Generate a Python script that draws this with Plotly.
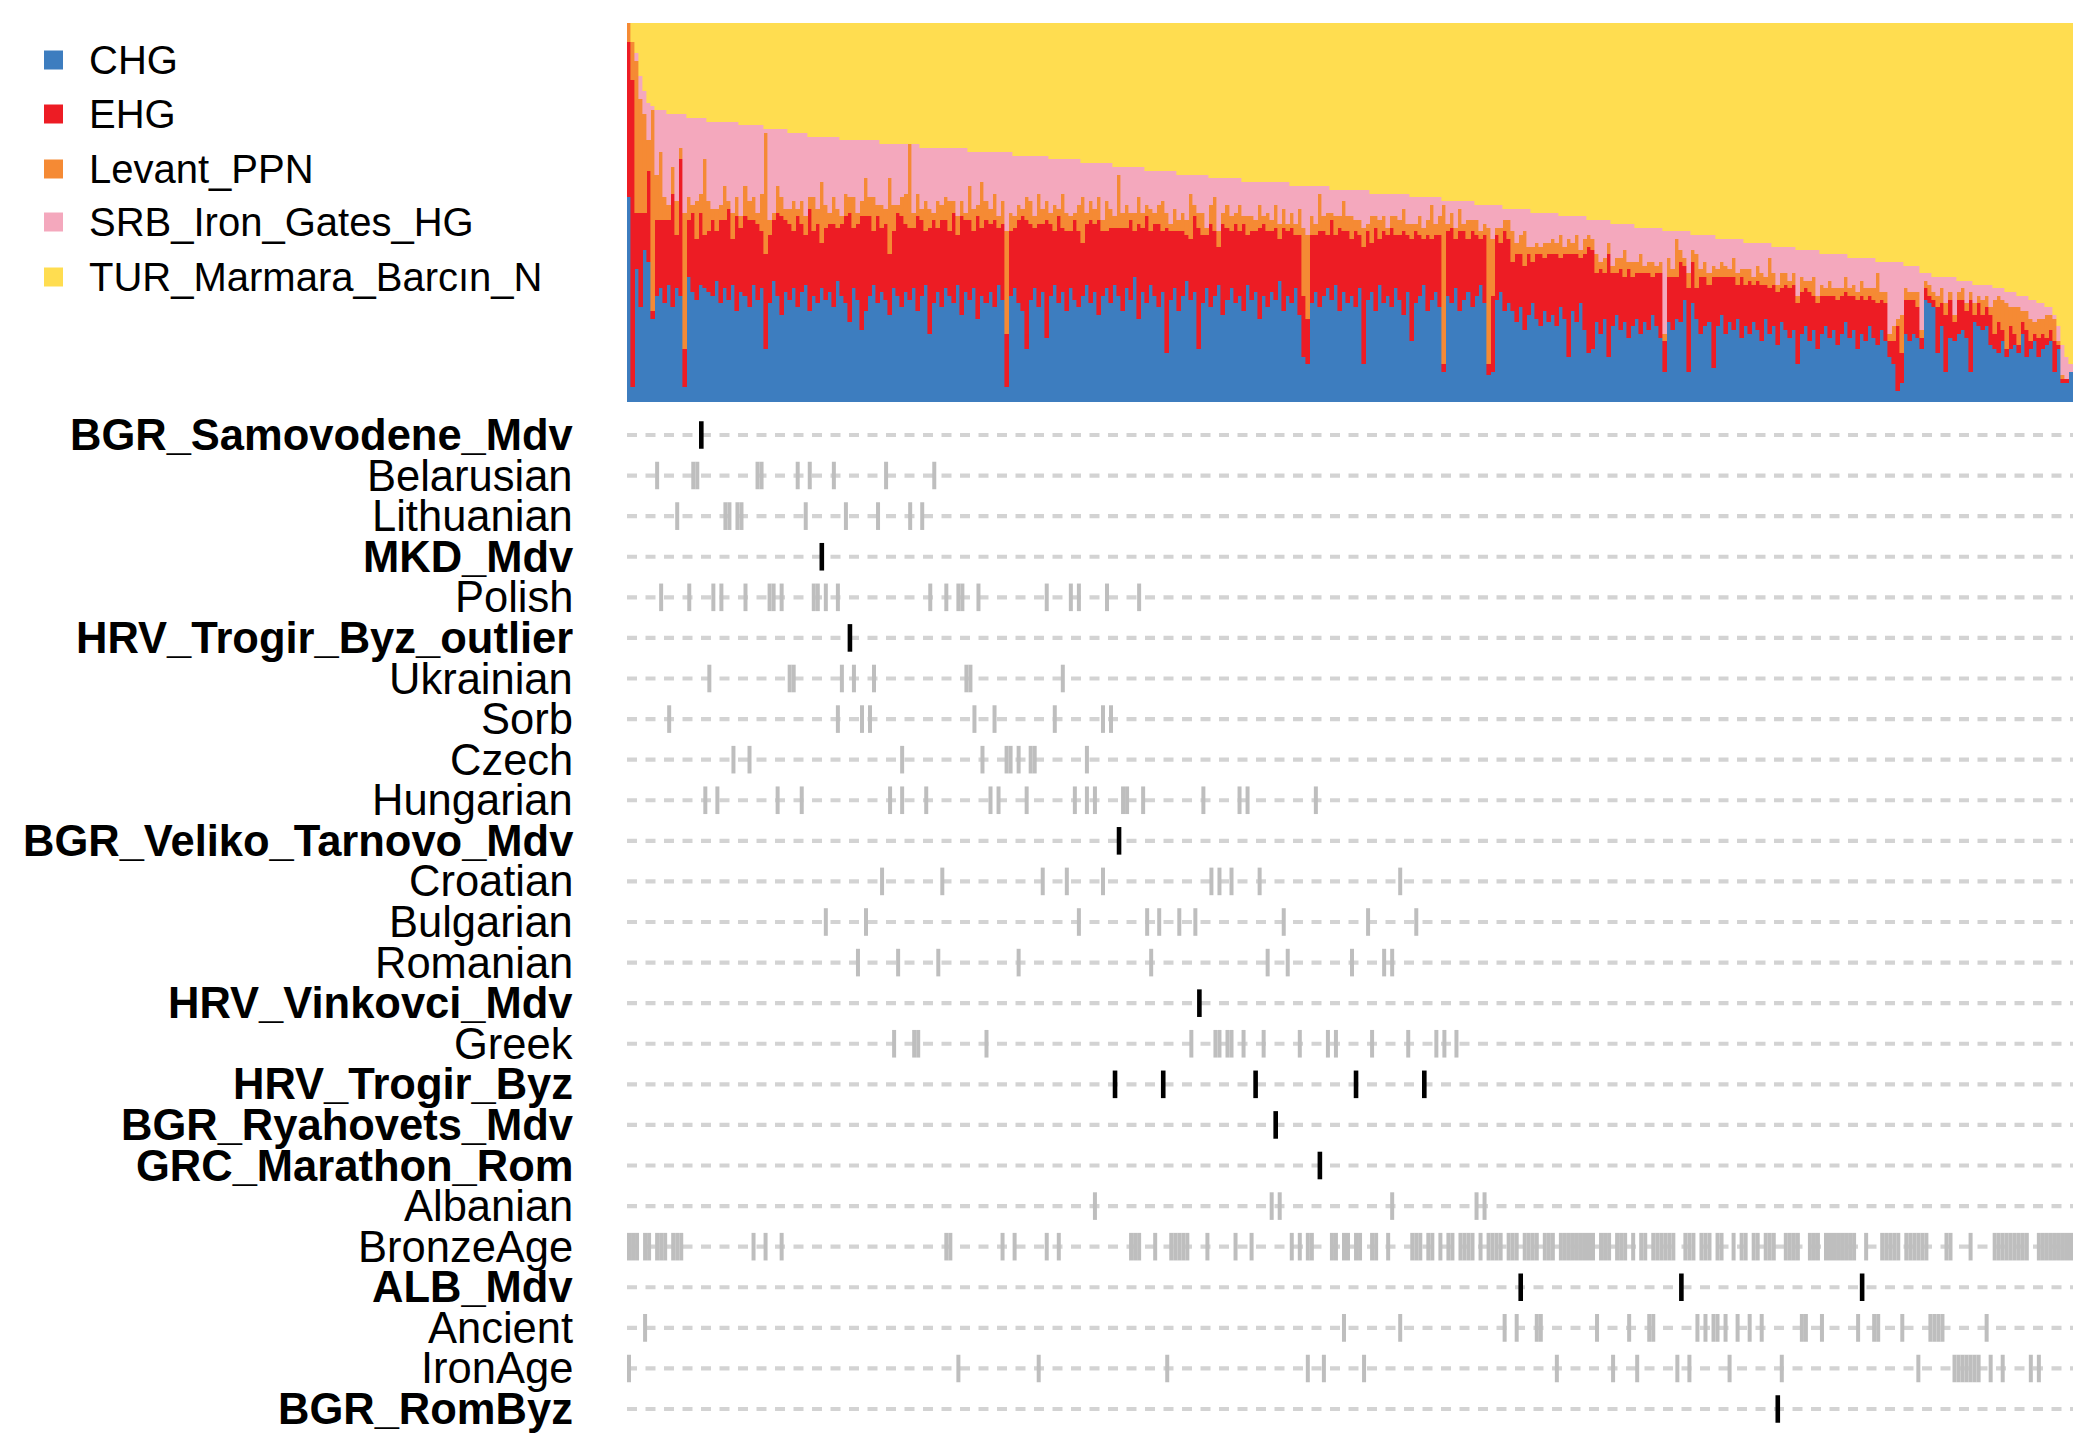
import plotly.graph_objects as go

# ---------------- data ----------------
N_SAMPLES = 360
samples = list(range(N_SAMPLES))

components = ["CHG", "EHG", "Levant_PPN", "SRB_Iron_Gates_HG", "TUR_Marmara_Barcın_N"]
comp_colors = ["#3D7DBF", "#ED1C24", "#F58A34", "#F4A8BD", "#FFDD50"]

CHG = [
    54, 4, 35, 25, 40, 37, 22, 28, 30, 26,
    31, 25, 30, 28, 4, 33, 29, 27, 31, 30,
    29, 28, 32, 26, 30, 27, 31, 24, 29, 28,
    25, 31, 27, 30, 14, 26, 32, 28, 23, 29,
    27, 30, 25, 29, 31, 24, 28, 26, 30, 27,
    29, 25, 32, 28, 26, 21, 30, 27, 19, 24,
    28, 31, 26, 29, 27, 23, 30, 28, 25, 29,
    27, 30, 24, 28, 31, 18, 26, 29, 25, 30,
    28, 26, 31, 23, 29, 27, 30, 22, 28, 26,
    29, 25, 31, 27, 4, 28, 30, 26, 24, 14,
    27, 30, 25, 29, 17, 28, 31, 26, 29, 24,
    30, 27, 25, 28, 31, 26, 29, 23, 28, 30,
    26, 31, 28, 24, 30, 27, 33, 22, 29, 26,
    31, 28, 25, 29, 13, 27, 30, 24, 28, 32,
    27, 29, 14, 26, 30, 25, 28, 31, 23, 27,
    30, 26, 28, 24, 31, 27, 29, 22, 28, 25,
    29, 27, 32, 24, 28, 26, 30, 23, 12, 10,
    26, 29, 25, 28, 30, 27, 31, 24, 29, 26,
    28, 25, 30, 10, 27, 29, 24, 31, 26, 28,
    25, 30, 27, 23, 29, 16, 26, 28, 31, 24,
    27, 29, 25, 8, 28, 26, 30, 24, 27, 29,
    25, 28, 31, 26, 7, 8, 27, 29, 24, 26,
    24, 21, 25, 19, 23, 26, 22, 20, 24, 21,
    23, 20, 25, 22, 12, 24, 21, 26, 19, 13,
    14, 21, 18, 22, 12, 20, 23, 19, 21, 17,
    20, 22, 18, 21, 19, 23, 20, 17, 8, 21,
    19, 22, 21, 27, 8, 26, 22, 18, 20, 21,
    9, 20, 23, 18, 21, 19, 22, 17, 20, 18,
    21, 19, 16, 22, 18, 20, 15, 21, 19, 17,
    19, 10, 18, 20, 16, 19, 14, 18, 20, 17,
    19, 15, 18, 21, 17, 19, 14, 18, 16, 20,
    17, 15, 19, 16, 12, 10, 3, 5, 18, 16,
    18, 17, 14, 27, 26, 25, 13, 20, 8, 17,
    16, 18, 19, 17, 8, 21, 20, 19, 20, 15,
    14, 13, 16, 12, 14, 15, 13, 18, 12, 14,
    16, 12, 14, 15, 16, 8, 14, 5, 5, 8,
]

EHG = [
    41, 81, 15, 25, 10, 24, 2, 20, 18, 22,
    17, 30, 14, 36, 10, 15, 21, 16, 19, 14,
    16, 20, 13, 22, 18, 24, 12, 25, 17, 21,
    23, 17, 20, 15, 25, 18, 16, 22, 26, 19,
    20, 15, 24, 18, 13, 27, 17, 21, 12, 19,
    18, 22, 14, 19, 23, 29, 16, 20, 30, 25,
    21, 14, 23, 17, 20, 16, 15, 22, 24, 18,
    19, 16, 25, 20, 14, 28, 22, 17, 23, 18,
    17, 24, 13, 26, 19, 21, 15, 27, 18, 22,
    18, 23, 15, 20, 14, 17, 16, 22, 25, 34,
    20, 16, 22, 18, 31, 19, 14, 23, 17, 21,
    15, 21, 20, 14, 16, 22, 18, 25, 17, 15,
    20, 15, 18, 22, 16, 21, 12, 25, 17, 23,
    14, 19, 22, 16, 33, 18, 15, 21, 17, 12,
    16, 20, 32, 18, 14, 22, 17, 10, 24, 19,
    15, 21, 17, 23, 13, 18, 16, 24, 19, 20,
    16, 19, 11, 22, 17, 20, 14, 21, 16, 12,
    18, 15, 20, 17, 14, 21, 13, 22, 16, 19,
    15, 20, 14, 31, 18, 13, 22, 12, 19, 16,
    21, 14, 17, 22, 15, 27, 19, 16, 12, 20,
    16, 15, 19, 2, 17, 20, 13, 21, 18, 14,
    20, 16, 12, 18, 3, 20, 17, 13, 21, 17,
    13, 18, 14, 17, 16, 11, 17, 19, 14, 18,
    16, 19, 13, 17, 27, 15, 18, 12, 20, 28,
    26, 13, 17, 12, 27, 14, 11, 16, 12, 18,
    13, 12, 16, 13, 15, 10, 14, 17, 8, 12,
    14, 11, 16, 9, 22, 11, 8, 15, 13, 10,
    24, 13, 10, 15, 12, 14, 9, 16, 11, 14,
    10, 13, 15, 9, 12, 11, 14, 9, 12, 13,
    12, 16, 11, 10, 13, 9, 12, 10, 8, 11,
    9, 12, 10, 8, 11, 9, 13, 10, 11, 8,
    10, 11, 8, 10, 4, 6, 17, 8, 9, 11,
    9, 8, 3, 3, 2, 2, 12, 6, 15, 10,
    5, 9, 8, 7, 19, 2, 6, 4, 5, 8,
    4, 8, 3, 2, 6, 3, 2, 3, 7, 2,
    2, 5, 4, 2, 3, 8, 1, 1, 1, 0,
]

LEVANT_PPN = [
    5, 10, 40, 30, 26, 8, 53, 12, 18, 6,
    4, 7, 9, 3, 36, 6, 2, 10, 5, 20,
    8, 3, 6, 4, 9, 2, 7, 5, 3, 8,
    5, 6, 3, 10, 32, 4, 2, 7, 5, 3,
    4, 8, 2, 6, 5, 3, 9, 4, 16, 6,
    3, 7, 5, 2, 6, 4, 8, 3, 4, 10,
    5, 9, 3, 6, 4, 20, 7, 2, 5, 8,
    22, 4, 6, 3, 8, 5, 2, 7, 4, 6,
    8, 3, 5, 4, 2, 9, 6, 3, 12, 5,
    4, 7, 3, 6, 27, 5, 3, 4, 2, 6,
    6, 3, 8, 4, 5, 3, 7, 2, 9, 5,
    4, 2, 7, 12, 3, 5, 4, 6, 3, 8,
    5, 3, 14, 4, 6, 2, 5, 7, 4, 3,
    6, 3, 5, 8, 4, 2, 6, 3, 5, 4,
    12, 3, 4, 6, 2, 5, 9, 4, 3, 6,
    4, 3, 7, 2, 5, 4, 3, 6, 2, 5,
    3, 6, 4, 5, 2, 4, 3, 7, 18, 22,
    5, 3, 10, 4, 6, 2, 5, 3, 8, 4,
    6, 3, 4, 5, 2, 7, 3, 5, 4, 2,
    3, 5, 4, 6, 3, 4, 2, 5, 3, 4,
    9, 3, 5, 42, 2, 4, 3, 6, 2, 5,
    3, 4, 2, 3, 36, 15, 2, 4, 3, 5,
    8, 3, 5, 9, 2, 4, 3, 2, 4, 3,
    4, 3, 6, 2, 4, 3, 5, 2, 4, 3,
    3, 5, 2, 4, 3, 2, 4, 3, 7, 2,
    4, 3, 5, 2, 3, 4, 2, 3, 2, 5,
    2, 10, 3, 2, 4, 3, 9, 2, 4, 3,
    3, 2, 4, 3, 2, 5, 3, 2, 4, 3,
    2, 4, 3, 2, 8, 3, 2, 4, 3, 2,
    3, 2, 4, 2, 3, 5, 2, 3, 2, 4,
    2, 3, 2, 4, 2, 3, 2, 4, 3, 2,
    3, 8, 2, 3, 2, 4, 2, 10, 3, 2,
    2, 4, 2, 2, 3, 2, 3, 4, 3, 2,
    2, 2, 3, 2, 2, 3, 2, 4, 3, 2,
    9, 7, 8, 12, 5, 7, 10, 3, 5, 6,
    3, 5, 4, 6, 4, 6, 1, 1, 0, 0,
]

SRB_IRON_GATES_HG = [
    0, 0, 2, 6, 6, 10, 1, 17, 11, 23,
    24, 14, 23, 9, 26, 21, 23, 22, 20, 11,
    21, 23, 23, 22, 17, 21, 24, 20, 24, 16,
    20, 19, 23, 18, 1, 24, 22, 15, 18, 21,
    20, 18, 20, 18, 22, 16, 16, 19, 12, 18,
    20, 16, 19, 20, 14, 15, 15, 19, 16, 10,
    15, 15, 17, 16, 17, 9, 16, 16, 14, 13,
    0, 18, 13, 16, 14, 16, 17, 14, 15, 13,
    14, 14, 18, 14, 17, 9, 15, 14, 8, 13,
    15, 11, 17, 13, 21, 16, 16, 13, 14, 11,
    12, 16, 10, 14, 12, 14, 12, 13, 9, 14,
    15, 14, 12, 9, 13, 10, 12, 9, 15, 10,
    12, 13, 2, 12, 10, 12, 12, 8, 12, 9,
    10, 11, 9, 8, 11, 14, 10, 12, 10, 12,
    5, 8, 10, 10, 14, 7, 5, 14, 9, 7,
    10, 9, 7, 9, 9, 9, 10, 6, 9, 8,
    10, 6, 11, 7, 11, 7, 10, 6, 11, 13,
    8, 10, 2, 8, 7, 6, 7, 7, 3, 7,
    7, 8, 8, 10, 9, 6, 6, 7, 6, 9,
    6, 6, 7, 4, 8, 7, 7, 5, 8, 6,
    2, 7, 5, 1, 6, 3, 7, 2, 6, 5,
    5, 4, 7, 5, 6, 9, 6, 6, 3, 3,
    6, 9, 7, 6, 10, 9, 8, 9, 8, 8,
    7, 8, 5, 8, 6, 7, 5, 9, 6, 4,
    5, 9, 11, 10, 6, 11, 9, 9, 7, 10,
    10, 9, 7, 10, 9, 9, 10, 9, 27, 7,
    10, 2, 5, 7, 11, 4, 5, 9, 7, 10,
    8, 8, 6, 7, 8, 5, 9, 8, 7, 7,
    9, 6, 8, 9, 4, 7, 10, 7, 7, 9,
    7, 12, 7, 8, 8, 7, 12, 8, 9, 7,
    9, 9, 9, 6, 8, 7, 9, 6, 8, 8,
    8, 3, 8, 8, 19, 17, 15, 14, 6, 7,
    7, 7, 15, 2, 3, 4, 5, 3, 7, 4,
    10, 3, 2, 6, 3, 5, 3, 4, 3, 6,
    3, 2, 3, 3, 4, 4, 3, 4, 4, 5,
    6, 4, 4, 2, 2, 1, 4, 8, 6, 2,
]

TUR_MARMARA_BARCIN_N = [
    0, 5, 8, 14, 18, 21, 22, 23, 23, 23,
    24, 24, 24, 24, 24, 25, 25, 25, 25, 25,
    26, 26, 26, 26, 26, 26, 26, 26, 27, 27,
    27, 27, 27, 27, 28, 28, 28, 28, 28, 28,
    29, 29, 29, 29, 29, 30, 30, 30, 30, 30,
    30, 30, 30, 31, 31, 31, 31, 31, 31, 31,
    31, 31, 31, 32, 32, 32, 32, 32, 32, 32,
    32, 32, 32, 33, 33, 33, 33, 33, 33, 33,
    33, 33, 33, 33, 33, 34, 34, 34, 34, 34,
    34, 34, 34, 34, 34, 34, 35, 35, 35, 35,
    35, 35, 35, 35, 35, 36, 36, 36, 36, 36,
    36, 36, 36, 37, 37, 37, 37, 37, 37, 37,
    37, 38, 38, 38, 38, 38, 38, 38, 38, 39,
    39, 39, 39, 39, 39, 39, 39, 40, 40, 40,
    40, 40, 40, 40, 40, 41, 41, 41, 41, 41,
    41, 41, 41, 42, 42, 42, 42, 42, 42, 42,
    42, 42, 42, 42, 42, 43, 43, 43, 43, 43,
    43, 43, 43, 43, 43, 44, 44, 44, 44, 44,
    44, 44, 44, 44, 44, 45, 45, 45, 45, 45,
    45, 45, 45, 45, 45, 46, 46, 46, 46, 46,
    46, 46, 46, 47, 47, 47, 47, 47, 47, 47,
    47, 48, 48, 48, 48, 48, 48, 48, 49, 49,
    49, 49, 49, 49, 49, 50, 50, 50, 50, 50,
    50, 50, 51, 51, 51, 51, 51, 51, 51, 52,
    52, 52, 52, 52, 52, 53, 53, 53, 53, 53,
    53, 54, 54, 54, 54, 54, 54, 54, 55, 55,
    55, 55, 55, 55, 55, 56, 56, 56, 56, 56,
    56, 57, 57, 57, 57, 57, 57, 57, 58, 58,
    58, 58, 58, 58, 58, 59, 59, 59, 59, 59,
    59, 60, 60, 60, 60, 60, 60, 61, 61, 61,
    61, 61, 61, 61, 62, 62, 62, 62, 62, 62,
    62, 63, 63, 63, 63, 63, 63, 63, 64, 64,
    64, 64, 66, 66, 66, 67, 67, 67, 67, 67,
    67, 68, 68, 68, 68, 69, 69, 69, 69, 69,
    70, 70, 70, 71, 71, 71, 72, 72, 72, 73,
    73, 74, 74, 75, 75, 77, 80, 85, 88, 90,
]

# population rows (top to bottom); bold = highlighted medieval / ancient groups
row_labels = [
    "BGR_Samovodene_Mdv", "Belarusian", "Lithuanian", "MKD_Mdv", "Polish",
    "HRV_Trogir_Byz_outlier", "Ukrainian", "Sorb", "Czech", "Hungarian",
    "BGR_Veliko_Tarnovo_Mdv", "Croatian", "Bulgarian", "Romanian", "HRV_Vinkovci_Mdv",
    "Greek", "HRV_Trogir_Byz", "BGR_Ryahovets_Mdv", "GRC_Marathon_Rom", "Albanian",
    "BronzeAge", "ALB_Mdv", "Ancient", "IronAge", "BGR_RomByz",
]
row_bold = [
    True, False, False, True, False,
    True, False, False, False, False,
    True, False, False, False, True,
    False, True, True, True, False,
    False, True, False, False, True,
]

# sample indices (position in the sorted bar chart) belonging to each row
row_members = [
    [18],
    [7, 16, 17, 32, 33, 42, 45, 51, 64, 76],
    [12, 24, 25, 27, 28, 44, 54, 62, 70, 73],
    [48],
    [8, 15, 21, 23, 29, 35, 36, 38, 46, 47, 49, 52, 75, 79, 82, 83, 87, 104, 110, 112, 119, 127],
    [55],
    [20, 40, 41, 53, 56, 61, 84, 85, 108],
    [10, 52, 58, 60, 86, 91, 106, 118, 120],
    [26, 30, 68, 88, 94, 95, 97, 100, 101, 114],
    [19, 22, 37, 43, 65, 68, 74, 90, 92, 99, 111, 114, 116, 123, 124, 128, 143, 152, 154, 171],
    [122],
    [63, 78, 103, 109, 118, 145, 147, 150, 157, 192],
    [49, 59, 112, 129, 132, 137, 141, 163, 184, 196],
    [57, 67, 77, 97, 130, 159, 164, 180, 188, 190],
    [142],
    [66, 71, 72, 89, 140, 146, 147, 149, 150, 153, 158, 167, 174, 176, 185, 194, 201, 203, 206],
    [121, 133, 156, 181, 198],
    [161],
    [172],
    [116, 160, 162, 190, 211, 213],
    [0, 1, 2, 4, 5, 7, 8, 9, 11, 12, 13, 31, 34, 38, 79, 80, 93, 96, 104, 107,
     125, 126, 127, 131, 135, 136, 137, 138, 139, 144, 151, 155, 165, 167, 169, 170,
     175, 176, 178, 179, 181, 182, 185, 186, 189,
     195, 196, 197, 199, 200, 202, 204, 205, 207, 208, 209, 210, 212, 214, 215, 216, 217,
     219, 220, 221, 223, 224, 225, 226, 228, 229, 230, 232, 233, 234, 235, 236, 237, 238, 239,
     240, 242, 243, 244, 246, 247, 248, 250, 252, 253, 255, 256, 257, 258, 259, 260,
     263, 264, 265, 267, 268, 269, 271, 272, 275, 277, 278, 280, 281, 283, 284, 285, 288, 289, 290,
     291, 294, 295, 296, 298, 299, 300, 301, 302, 303, 304, 305, 308, 312, 313, 314,
     315, 316, 318, 319, 320, 321, 322, 323, 328, 329, 334, 340, 341, 342, 343, 344, 345, 346, 347,
     348, 351, 352, 353, 354, 355, 356, 357, 358, 359],
    [222, 262, 307],
    [4, 178, 192, 218, 221, 226, 227, 241, 249, 254, 255, 266, 268, 270, 271, 273,
     276, 279, 282, 292, 293, 297, 306, 310, 311, 317, 324, 325, 326, 327, 338],
    [0, 82, 102, 134, 169, 173, 183, 231, 245, 251, 261, 264, 274, 287, 321, 330,
     331, 332, 333, 334, 335, 336, 339, 342, 349, 351],
    [286],
]

series = [CHG, EHG, LEVANT_PPN, SRB_IRON_GATES_HG, TUR_MARMARA_BARCIN_N]
for s in series:
    assert len(s) == N_SAMPLES, len(s)

# ---------------- layout geometry ----------------
# The page body has an 8px margin, so the figure is sized to fit the window
# and target pixel positions are shifted by that margin.
OFF = 8
W, H = 2100 - 2 * OFF, 1447 - 2 * OFF
PX_L, PX_R = 627, 2073           # plot left / right (window px)
BAR_T, BAR_B = 23, 402           # bar panel top / bottom
RUG_T, RUG_B = 414.7, 1429.3     # rug panel top / bottom
LABEL_X = 575
FONT = "Liberation Sans, Arial, Helvetica, sans-serif"

def px(p):
    return (p - OFF) / W

def py(p):
    return 1 - (p - OFF) / H

fig = go.Figure()

# stacked admixture bars
for name, vals, col in zip(components, series, comp_colors):
    fig.add_trace(go.Bar(
        x=samples, y=vals, name=name,
        marker=dict(color=col, line=dict(width=0.6, color=col)),
        xaxis="x", yaxis="y", showlegend=False, hoverinfo="skip",
    ))

# dashed guide line for each population row
nrows = len(row_labels)
for r in range(nrows):
    fig.add_trace(go.Scatter(
        x=[-0.5, N_SAMPLES - 0.5], y=[r, r], mode="lines",
        line=dict(color="#D3D3D3", width=4.2, dash="10px,8.5px"),
        xaxis="x2", yaxis="y2", showlegend=False, hoverinfo="skip",
    ))

# membership ticks
for r, (members, bold) in enumerate(zip(row_members, row_bold)):
    xs, ys = [], []
    for k in members:
        xs += [k, k, None]
        ys += [r - 0.34, r + 0.34, None]
    fig.add_trace(go.Scatter(
        x=xs, y=ys, mode="lines",
        line=dict(color="#000000" if bold else "#BEBEBE", width=4.6 if bold else 4.0),
        xaxis="x2", yaxis="y2", showlegend=False, hoverinfo="skip",
    ))

annotations = []
for r, (lab, bold) in enumerate(zip(row_labels, row_bold)):
    annotations.append(dict(
        x=px(LABEL_X), xref="paper", xanchor="right",
        y=r, yref="y2", yanchor="middle",
        text=f"<b>{lab}</b>" if bold else lab,
        showarrow=False, font=dict(family=FONT, size=43.5, color="#000000"),
    ))

# legend (keys + names)
shapes = []
leg_y = [60, 114, 169, 222, 277]
for name, col, yy in zip(components, comp_colors, leg_y):
    shapes.append(dict(
        type="rect", xref="paper", yref="paper",
        x0=px(44), x1=px(63), y0=py(yy + 9.5), y1=py(yy - 9.5),
        fillcolor=col, line=dict(width=0),
    ))
    annotations.append(dict(
        x=px(87), xref="paper", xanchor="left",
        y=py(yy), yref="paper", yanchor="middle",
        text=name, showarrow=False,
        font=dict(family=FONT, size=40, color="#000000"),
    ))

fig.update_layout(
    width=W, height=H,
    margin=dict(l=0, r=0, t=0, b=0),
    paper_bgcolor="white", plot_bgcolor="white",
    barmode="stack", bargap=0, barnorm="percent",
    showlegend=False,
    xaxis=dict(domain=[px(PX_L), px(PX_R)], range=[-0.5, N_SAMPLES - 0.5],
               visible=False, fixedrange=True),
    yaxis=dict(domain=[py(BAR_B), py(BAR_T)], range=[0, 100], visible=False, fixedrange=True),
    xaxis2=dict(domain=[px(PX_L), px(PX_R)], range=[-0.5, N_SAMPLES - 0.5],
                anchor="y2", visible=False, fixedrange=True),
    yaxis2=dict(domain=[py(RUG_B), py(RUG_T)], range=[nrows - 0.5, -0.5],
                anchor="x2", visible=False, fixedrange=True),
    annotations=annotations,
    shapes=shapes,
)

fig.write_html("out.html")
